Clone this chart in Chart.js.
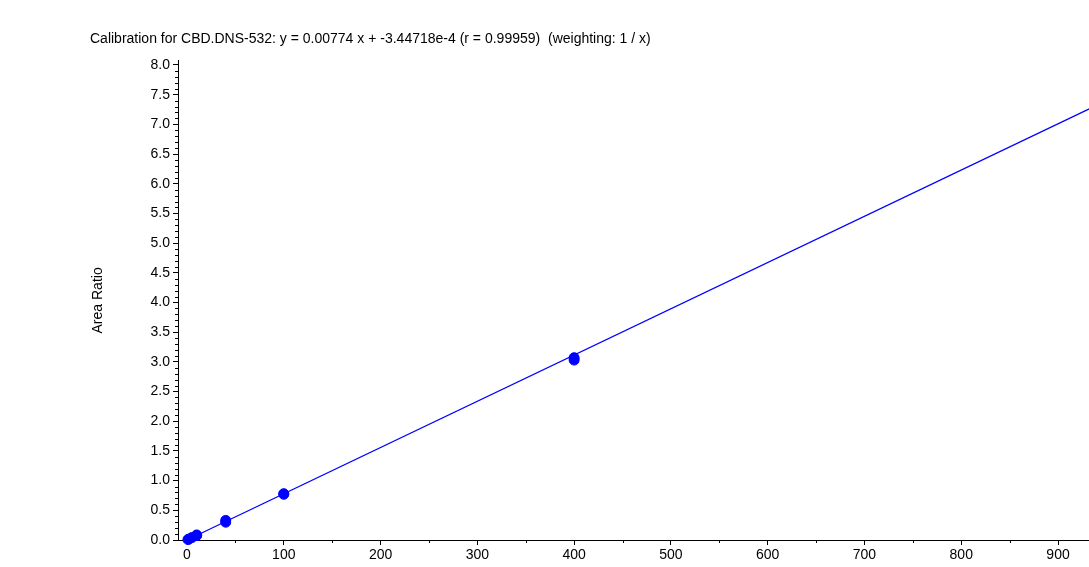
<!DOCTYPE html>
<html>
<head>
<meta charset="utf-8">
<script src="https://cdn.jsdelivr.net/npm/chart.js@4"></script>
<style>
  html, body { margin: 0; padding: 0; background: #fff; }
  #wrap { width: 1089px; height: 567px; }
</style>
</head>
<body>
<div id="wrap"><canvas id="myChart" width="1089" height="567"></canvas></div>
<script>
// calibration standards (concentration vs area ratio)
const concX = [1, 2, 5, 10, 10, 40, 40, 100, 100, 400, 400];
const areaRatio = [0.008, 0.016, 0.04, 0.075, 0.085, 0.30, 0.33, 0.77, 0.78, 3.03, 3.07];

// fitted line end points
const fitX = [0, 940];
const fitY = [-0.0003, 7.32];

const xTicks = [0, 100, 200, 300, 400, 500, 600, 700, 800, 900];
const yTicks = [0, 0.5, 1, 1.5, 2, 2.5, 3, 3.5, 4, 4.5, 5, 5.5, 6, 6.5, 7, 7.5, 8];

const titleText = 'Calibration for CBD.DNS-532: y = 0.00774 x + -3.44718e-4 (r = 0.99959)  (weighting: 1 / x)';

const FONT = 'Liberation Sans, Arial, Helvetica, sans-serif';

// minor tick marks drawn with the scales' own pixel mapping
const minorTicks = {
    id: 'minorTicks',
    afterDraw(chart) {
        const ctx = chart.ctx;
        const xs = chart.scales.x, ys = chart.scales.y;
        ctx.save();
        ctx.strokeStyle = '#000';
        ctx.lineWidth = 1;
        ctx.beginPath();
        for (let i = 0; i <= 80; i++) {
            if (i % 5 === 0) continue;
            const py = Math.round(ys.getPixelForValue(i / 10)) + 0.5;
            ctx.moveTo(xs.left - 3, py);
            ctx.lineTo(xs.left, py);
        }
        for (let v = 50; v < 950; v += 100) {
            const px = Math.round(xs.getPixelForValue(v)) + 0.5;
            if (px > xs.right) continue;
            ctx.moveTo(px, ys.bottom);
            ctx.lineTo(px, ys.bottom + 3);
        }
        ctx.stroke();
        ctx.restore();
    }
};

const ctx = document.getElementById('myChart').getContext('2d');
new Chart(ctx, {
    type: 'scatter',
    data: {
        datasets: [
            {
                label: 'fit',
                type: 'line',
                data: fitX.map((x, i) => ({ x: x, y: fitY[i] })),
                borderColor: '#0000ff',
                borderWidth: 1.3,
                pointRadius: 0,
                fill: false,
                order: 2
            },
            {
                label: 'standards',
                data: concX.map((x, i) => ({ x: x, y: areaRatio[i] })),
                backgroundColor: '#0000ff',
                borderColor: '#0000ff',
                pointRadius: 5,
                pointHoverRadius: 5,
                order: 1
            }
        ]
    },
    plugins: [minorTicks],
    options: {
        responsive: false,
        animation: false,
        clip: false,
        layout: { autoPadding: false, padding: { left: 90, top: 0, right: 0, bottom: 0 } },
        plugins: {
            legend: { display: false },
            tooltip: { enabled: false },
            title: {
                display: true,
                text: titleText,
                align: 'start',
                color: '#000',
                font: { family: FONT, size: 14, weight: 'normal' },
                padding: { top: 31, bottom: 13 }
            }
        },
        scales: {
            x: {
                type: 'linear',
                min: -9.3,
                max: 932,
                afterBuildTicks: s => { s.ticks = xTicks.map(v => ({ value: v })); },
                afterFit: s => { s.height = 27; },
                border: { color: '#000', width: 1 },
                grid: { drawOnChartArea: false, tickLength: 5, tickColor: '#000' },
                ticks: {
                    color: '#000',
                    padding: 2,
                    maxRotation: 0,
                    autoSkip: false,
                    font: { family: FONT, size: 14 }
                }
            },
            y: {
                type: 'linear',
                min: 0,
                max: 8.07,
                afterBuildTicks: s => { s.ticks = yTicks.map(v => ({ value: v })); },
                afterFit: s => { s.width = 88; },
                border: { color: '#000', width: 1 },
                grid: { drawOnChartArea: false, tickLength: 5, tickColor: '#000' },
                title: {
                    display: true,
                    text: 'Area Ratio',
                    color: '#000',
                    padding: { top: 0, bottom: 0 },
                    font: { family: FONT, size: 14 }
                },
                ticks: {
                    color: '#000',
                    padding: 3,
                    autoSkip: false,
                    font: { family: FONT, size: 14 },
                    callback: v => v.toFixed(1)
                }
            }
        }
    }
});
</script>
</body>
</html>
